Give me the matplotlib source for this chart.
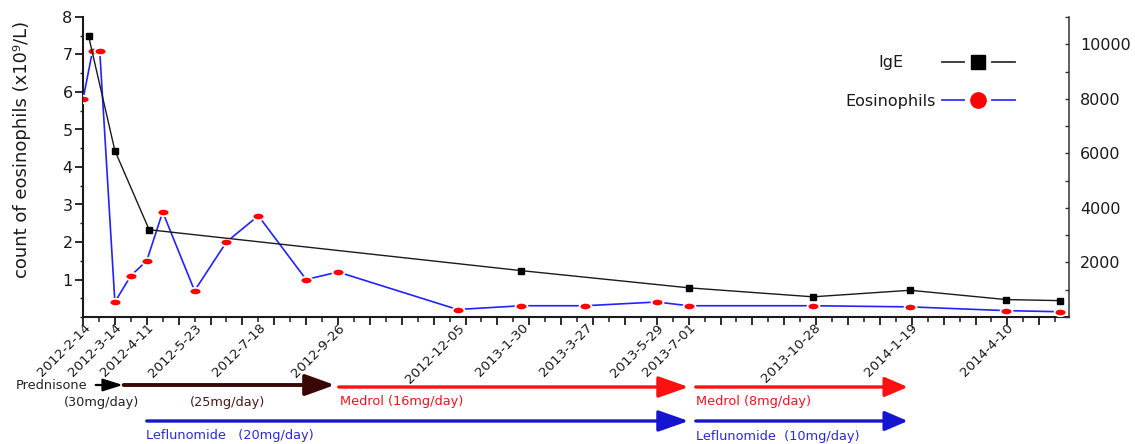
import matplotlib
matplotlib.use("Agg")
import matplotlib.pyplot as plt
import matplotlib.transforms as mtransforms
from matplotlib.path import Path
from matplotlib.lines import Line2D
from matplotlib.ticker import MultipleLocator, NullFormatter, FixedLocator

plt.rcParams['font.family'] = ['DejaVu Sans']

# ---------------- data (x in weeks from 2012-2-14) ----------------
eos_weeks = [0, 1.2, 2.1, 4, 6, 8, 10, 14, 18, 22, 28, 32, 47, 55, 63, 72, 76, 91.6, 103.8, 115.8, 122.6]
eos_values = [5.8, 7.1, 7.1, 0.4, 1.1, 1.5, 2.8, 0.7, 2.0, 2.7, 1.0, 1.2, 0.2, 0.3, 0.3, 0.4, 0.3, 0.3, 0.27, 0.17, 0.14]

ige_weeks = [0.7, 4, 8.3, 55, 76, 91.6, 103.8, 115.8, 122.6]
ige_values = [10300, 6100, 3200, 1700, 1070, 740, 980, 640, 600]

date_labels = ['2012-2-14', '2012-3-14', '2012-4-11', '2012-5-23', '2012-7-18', '2012-9-26',
               '2012-12-05', '2013-1-30', '2013-3-27', '2013-5-29', '2013-7-01', '2013-10-28',
               '2014-1-19', '2014-4-10']
date_weeks = [0, 4, 8, 14, 22, 32, 47, 55, 63, 72, 76, 91.6, 103.8, 115.8]

left_ticks = [1, 2, 3, 4, 5, 6, 7, 8]
right_ticks = [2000, 4000, 6000, 8000, 10000]

# treatments: (start week, end week)
pred30 = (1.6, 5.0)
pred25 = (5.1, 31.6)
medrol16 = (32.1, 76.0)
medrol8 = (76.9, 103.5)
lef20 = (8.0, 76.0)
lef10 = (76.9, 103.5)

# ---------------- figure ----------------
W, H = 1135, 444
fig = plt.figure(figsize=(W / 100, H / 100), dpi=100)
L, R, T, B = 83, 1069, 17, 317
ax = fig.add_axes([L / W, 1 - B / H, (R - L) / W, (B - T) / H])
ax2 = ax.twinx()

ax.set_xlim(0, (R - L) / 7.969)
ax.set_ylim(0, 8)
ax2.set_ylim(0, 11000)

ell = Path.unit_circle().transformed(mtransforms.Affine2D().scale(1.0, 0.62))

ax.plot(eos_weeks, eos_values, color='#2222ff', lw=1.2, marker=ell, ms=8.6,
        mfc='#ff0000', mec='white', mew=1.3, zorder=3)
ax2.plot(ige_weeks, ige_values, color='#1a1a1a', lw=1.0, marker='s', ms=4.8,
         mfc='black', mec='black', zorder=4)

# spines
for s in ['top']:
    ax.spines[s].set_visible(False)
    ax2.spines[s].set_visible(False)
ax.spines['right'].set_visible(False)
ax2.spines['left'].set_visible(False)
ax2.spines['bottom'].set_visible(False)
ax.spines['left'].set_linewidth(1.5)
ax.spines['bottom'].set_linewidth(1.5)
ax2.spines['right'].set_linewidth(1.1)
for sp in ax.spines.values():
    sp.set_color('#1a1a1a')
ax2.spines['right'].set_color('#333333')

# ticks
ax.xaxis.set_major_locator(MultipleLocator(4))
ax.xaxis.set_minor_locator(MultipleLocator(2))
ax.xaxis.set_major_formatter(NullFormatter())
ax.tick_params(axis='x', which='major', direction='out', length=5.5, width=1.3, color='#1a1a1a')
ax.tick_params(axis='x', which='minor', direction='out', length=3.6, width=1.1, color='#1a1a1a')

ax.yaxis.set_major_locator(FixedLocator(left_ticks))
ax.yaxis.set_minor_locator(MultipleLocator(0.5))
ax.tick_params(axis='y', which='major', direction='out', length=5.5, width=1.3,
               labelsize=11.5, pad=2, color='#1a1a1a', labelcolor='#1a1a1a')
ax.tick_params(axis='y', which='minor', direction='out', length=2.5, width=1.0, color='#1a1a1a')

ax2.yaxis.set_major_locator(FixedLocator(right_ticks))
ax2.yaxis.set_minor_locator(MultipleLocator(1000))
ax2.tick_params(axis='y', which='major', direction='in', length=3, width=1.0,
                labelsize=11.5, pad=8, color='#333333', labelcolor='#1a1a1a')
ax2.tick_params(axis='y', which='minor', direction='in', length=3, width=1.0, color='#333333')

# date labels
trans_lab = mtransforms.blended_transform_factory(ax.transData, ax.transAxes)
off = mtransforms.ScaledTranslation(5 / 100, -9 / 100, fig.dpi_scale_trans)
for wk_, lab in zip(date_weeks, date_labels):
    ax.text(wk_, 0, lab, transform=trans_lab + off, rotation=45, rotation_mode='anchor',
            ha='right', va='center', fontsize=9.6, color='#1a1a1a', clip_on=False)

# y label
fig.text(22 / W, 1 - 149 / H, 'count of eosinophils (x10\u2079/L)', rotation=90,
         ha='center', va='center', fontsize=13, color='#1a1a1a')

# manual legend (axes coordinates)
def ax_xy(px, py):
    return (px - L) / (R - L), (B - py) / (B - T)

for (y, col, mk, ms, label) in [(62, '#333333', 's', 10, 'IgE'),
                                (100, '#3333ff', 'o', 11, 'Eosinophils')]:
    for x0, x1 in [(942, 964), (992, 1015)]:
        a0 = ax_xy(x0, y)
        a1 = ax_xy(x1, y)
        ax.add_line(Line2D([a0[0], a1[0]], [a0[1], a1[1]], transform=ax.transAxes,
                           color=col, lw=1.3, clip_on=False))
    m = ax_xy(978, y)
    ax.add_line(Line2D([m[0]], [m[1]], transform=ax.transAxes, marker=mk, ms=ms,
                       mfc='black' if mk == 's' else '#ff0000',
                       mec='black' if mk == 's' else '#ff0000', ls='none', clip_on=False))
    t = ax_xy(891, y + 1)
    ax.text(t[0], t[1], label, transform=ax.transAxes, ha='center', va='center',
            fontsize=11.5, color='#1a1a1a')

# treatment arrows
def yax(py):
    return (B - py) / (B - T)

def arrow(span, py, color, lw, hl, hw):
    ax.annotate('', xy=(span[1], yax(py)), xytext=(span[0], yax(py)),
                xycoords=trans_lab, textcoords=trans_lab, annotation_clip=False,
                arrowprops=dict(arrowstyle=f'-|>,head_length={hl},head_width={hw}',
                                color=color, lw=lw, shrinkA=0, shrinkB=0,
                                mutation_scale=10))

arrow(pred30, 385, 'black', 1.6, 1.2, 0.38)
arrow(pred25, 385, '#3a0606', 2.8, 1.8, 0.65)
arrow(medrol16, 387, '#ff1010', 2.4, 1.85, 0.65)
arrow(medrol8, 387, '#ff1010', 2.4, 1.4, 0.6)
arrow(lef20, 421, '#1515d0', 2.4, 1.85, 0.65)
arrow(lef10, 421, '#1515d0', 2.4, 1.4, 0.6)

def wk(px):
    return (px - L) / 7.969

tfs = 9.3
ax.text(wk(87), yax(385), 'Prednisone', transform=trans_lab, ha='right', va='center',
        fontsize=tfs, color='#222222', clip_on=False)
ax.text(wk(101.5), yax(402), '(30mg/day)', transform=trans_lab, ha='center', va='center',
        fontsize=tfs, color='#222222', clip_on=False)
ax.text(wk(228), yax(402), '(25mg/day)', transform=trans_lab, ha='center', va='center',
        fontsize=tfs, color='#4a1a1a', clip_on=False)
ax.text(wk(340), yax(401), 'Medrol (16mg/day)', transform=trans_lab, ha='left', va='center',
        fontsize=tfs, color='#e8141e', clip_on=False)
ax.text(wk(696), yax(401), 'Medrol (8mg/day)', transform=trans_lab, ha='left', va='center',
        fontsize=tfs, color='#e8141e', clip_on=False)
ax.text(wk(146), yax(435), 'Leflunomide   (20mg/day)', transform=trans_lab, ha='left', va='center',
        fontsize=tfs, color='#2a2ad8', clip_on=False)
ax.text(wk(696), yax(436), 'Leflunomide  (10mg/day)', transform=trans_lab, ha='left', va='center',
        fontsize=tfs, color='#2a2ad8', clip_on=False)

fig.savefig('out.png', dpi=100, facecolor='white')
